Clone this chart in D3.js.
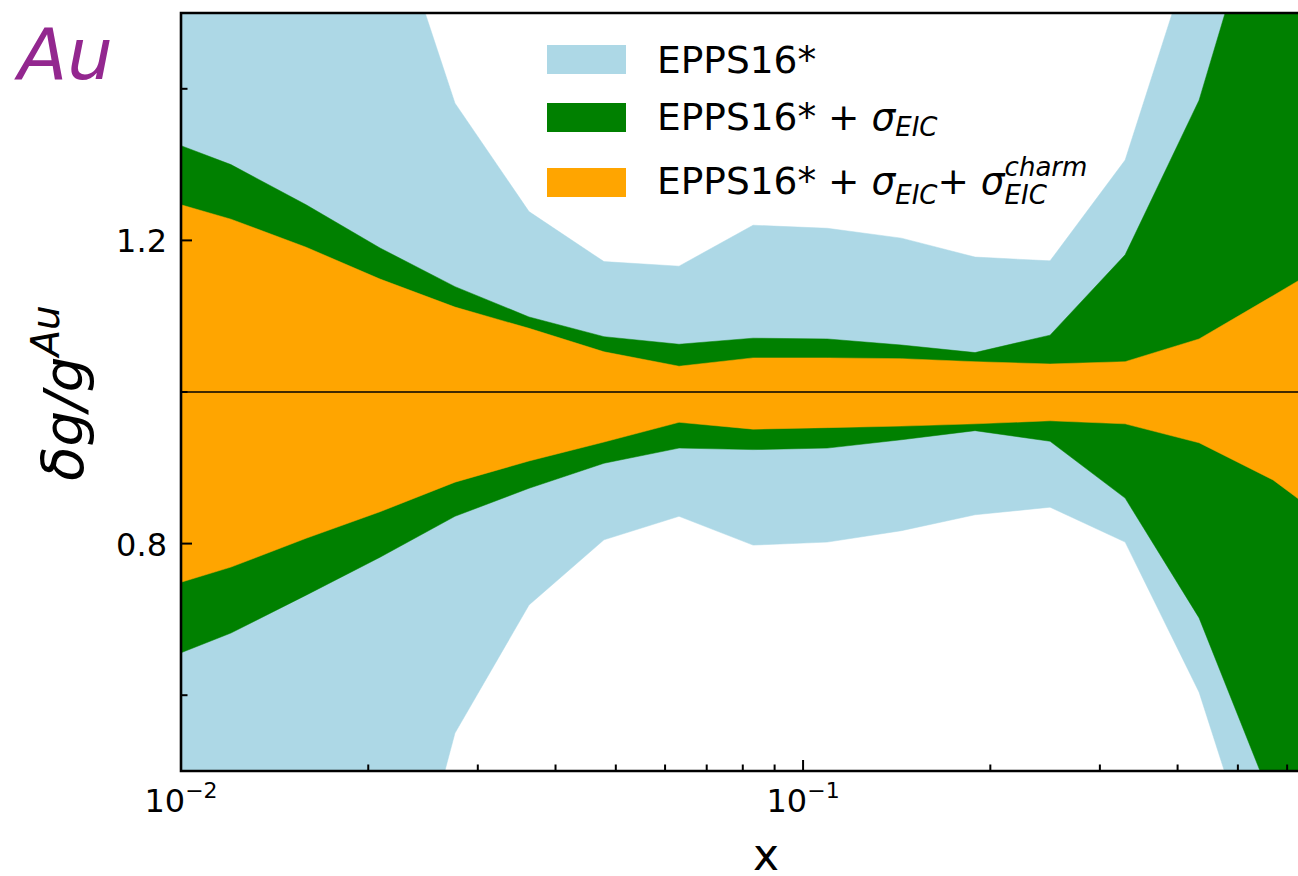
<!DOCTYPE html>
<html><head><meta charset="utf-8">
<script src="https://cdn.jsdelivr.net/npm/d3@7"></script>
<style>
body{margin:0;background:#fff}
svg{display:block}
text{font-family:"DejaVu Sans",sans-serif;white-space:pre}
</style>
</head><body>
<svg id="c" width="1298" height="876"></svg>
<script>
// ---- data ----
const xNodes     = [0.01, 0.01203, 0.01589, 0.02089, 0.02757, 0.03626, 0.04786, 0.06318, 0.0831, 0.1094, 0.1439, 0.1890, 0.2495, 0.3294, 0.4331, 0.5695, 0.749];
const eppsUpper  = [2.00, 1.95, 1.85, 1.68, 1.381, 1.238, 1.172, 1.166, 1.220, 1.216, 1.203, 1.178, 1.173, 1.306, 1.610, 1.90, 2.10];
const eppsLower  = [0.05, 0.08, 0.13, 0.18, 0.550, 0.719, 0.805, 0.836, 0.798, 0.802, 0.817, 0.838, 0.848, 0.802, 0.604, 0.300, 0.00];
const eicUpper   = [1.325, 1.300, 1.247, 1.190, 1.139, 1.099, 1.073, 1.063, 1.071, 1.070, 1.062, 1.052, 1.075, 1.181, 1.385, 1.712, 1.95];
const eicLower   = [0.656, 0.682, 0.732, 0.782, 0.836, 0.873, 0.906, 0.926, 0.924, 0.926, 0.937, 0.949, 0.935, 0.860, 0.702, 0.457, 0.20];
const charmUpper = [1.247, 1.228, 1.191, 1.149, 1.112, 1.084, 1.053, 1.034, 1.045, 1.045, 1.044, 1.040, 1.037, 1.040, 1.070, 1.127, 1.185];
const charmLower = [0.749, 0.769, 0.807, 0.842, 0.881, 0.909, 0.934, 0.960, 0.951, 0.953, 0.955, 0.958, 0.962, 0.958, 0.933, 0.884, 0.811];

const xDomain = [0.01, 0.76];
const yDomain = [0.5, 1.5];
const xMajorTicks = [0.01, 0.1];
const xMajorLabels = [["10", "\u22122"], ["10", "\u22121"]];
const xMinorTicks = [0.02,0.03,0.04,0.05,0.06,0.07,0.08,0.09,0.2,0.3,0.4,0.5,0.6,0.7];
const yMajorTicks = [0.8, 1.2];
const yMajorLabels = ["0.8", "1.2"];
const yMinorTicks = [0.6, 1.0, 1.4];
const refLine = 1.0;

const colors = {epps:"#add8e6", eic:"#008000", charm:"#ffa500"};

// ---- layout ----
const L = 181, T = 13, B = 771, R = 1351;
const svg = d3.select("#c");
const x = d3.scaleLog().domain(xDomain).range([L, R]);
const y = d3.scaleLinear().domain(yDomain).range([B, T]);

svg.append("defs").append("clipPath").attr("id","clip")
  .append("rect").attr("x",L).attr("y",T).attr("width",R-L).attr("height",B-T);

const plot = svg.append("g").attr("clip-path","url(#clip)");
function band(lo, hi, col){
  const data = xNodes.map((d,i)=>({x:d, lo:lo[i], hi:hi[i]}));
  plot.append("path").datum(data)
    .attr("d", d3.area().x(d=>x(d.x)).y0(d=>y(d.lo)).y1(d=>y(d.hi)))
    .attr("fill", col).attr("stroke", col).attr("stroke-width",0.5);
}
band(eppsLower, eppsUpper, colors.epps);
band(eicLower, eicUpper, colors.eic);
band(charmLower, charmUpper, colors.charm);

plot.append("line").attr("x1",L).attr("x2",R).attr("y1",y(refLine)).attr("y2",y(refLine))
  .attr("stroke","#000").attr("stroke-width",1.5);

// ---- axes (ticks inward) ----
const ax = svg.append("g").attr("stroke","#000").attr("stroke-width",2);
xMajorTicks.forEach(v=>ax.append("line").attr("x1",x(v)).attr("x2",x(v)).attr("y1",B).attr("y2",B-11));
xMinorTicks.forEach(v=>ax.append("line").attr("x1",x(v)).attr("x2",x(v)).attr("y1",B).attr("y2",B-6.5));
yMajorTicks.forEach(v=>ax.append("line").attr("y1",y(v)).attr("y2",y(v)).attr("x1",L).attr("x2",L+11));
yMinorTicks.forEach(v=>ax.append("line").attr("y1",y(v)).attr("y2",y(v)).attr("x1",L).attr("x2",L+6.5));

// spines
svg.append("path").attr("d",`M${L},${T}H${R}M${L},${T}V${B}M${L},${B}H${R}`)
  .attr("fill","none").attr("stroke","#000").attr("stroke-width",2.6).attr("stroke-linecap","square");

// tick labels
yMajorTicks.forEach((v,i)=>{
  svg.append("text").attr("x",167).attr("y",y(v)+12).attr("text-anchor","end")
    .attr("font-size",32).text(yMajorLabels[i]);
});
xMajorTicks.forEach((v,i)=>{
  const t = svg.append("text").attr("x",x(v)).attr("y",812).attr("text-anchor","middle").attr("font-size",32);
  t.append("tspan").text(xMajorLabels[i][0]);
  t.append("tspan").attr("dy",-14).attr("font-size",22).text(xMajorLabels[i][1]);
});

// axis labels
svg.append("text").attr("x",766).attr("y",870).attr("text-anchor","middle").attr("font-size",44).text("x");
const yl = svg.append("text").attr("transform","translate(83,393) rotate(-90)")
  .attr("text-anchor","middle").attr("font-size",56).attr("font-style","italic");
yl.append("tspan").text("\u03b4g/g");
yl.append("tspan").attr("dy",-24).attr("font-size",39).text("Au");

// Au label
svg.append("text").attr("x",18).attr("y",79).attr("font-family","'Liberation Serif',serif")
  .attr("font-style","italic").attr("font-size",72).attr("fill","#93278f").text("Au");

// ---- legend ----
const lg = svg.append("g");
const swatches = [
  {col:colors.epps, y:45},
  {col:colors.eic, y:103},
  {col:colors.charm, y:168}
];
swatches.forEach(s=>lg.append("rect").attr("x",547).attr("y",s.y).attr("width",79).attr("height",29).attr("fill",s.col));

function rich(x0, y0, parts){
  let xx = x0;
  parts.forEach(p=>{
    const items = p.stack ? p.stack : [p];
    let w = 0;
    items.forEach(s=>{
      const t = lg.append("text").attr("x",xx).attr("y",y0+(s.dy||0))
        .attr("font-size",s.size||37.5).attr("font-style",s.it?"italic":"normal")
        .attr("xml:space","preserve").text(s.t);
      w = Math.max(w, t.node().getComputedTextLength());
    });
    xx += w;
  });
}
rich(657, 73, [{t:"EPPS16*"}]);
rich(657, 130, [{t:"EPPS16* + "},{t:"\u03c3",it:true},{t:"EIC",it:true,size:26,dy:6}]);
rich(657, 194, [{t:"EPPS16* + "},{t:"\u03c3",it:true},{t:"EIC",it:true,size:26,dy:10},{t:"+ "},{t:"\u03c3",it:true},
  {stack:[{t:"charm",it:true,size:26,dy:-18},{t:"EIC",it:true,size:26,dy:10}]}]);
</script>
</body></html>
